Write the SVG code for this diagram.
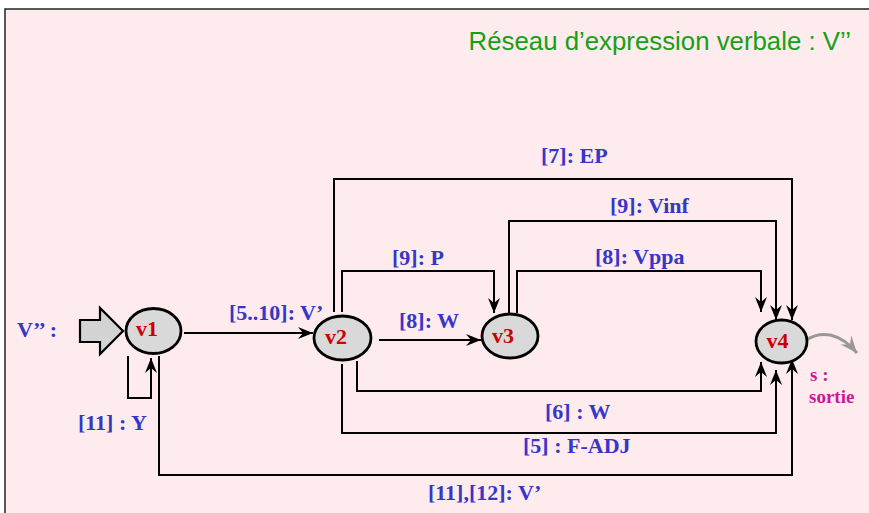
<svg xmlns="http://www.w3.org/2000/svg" width="869" height="513" viewBox="0 0 869 513">
<style>
.lbl{font-family:"Liberation Serif","Times New Roman",serif;font-weight:bold;font-size:22px;fill:#3636c8}
.nlbl{font-family:"Liberation Serif","Times New Roman",serif;font-weight:bold;font-size:22px;fill:#cc0000;text-anchor:middle}
.node{fill:#d9d9d9;stroke:#000;stroke-width:2.8}
.edge{fill:none;stroke:#000;stroke-width:2}
.sortie{font-family:"Liberation Serif","Times New Roman",serif;font-weight:bold;font-size:19px;fill:#cc1699}
</style>
<defs>
<marker id="ah" markerUnits="userSpaceOnUse" markerWidth="17" markerHeight="14" viewBox="-15 -7 17 14" refX="0" refY="0" orient="auto">
<path d="M0,0 L-15,-6 L-10,0 L-15,6 z" fill="#000"/>
</marker>
<marker id="ahg" markerUnits="userSpaceOnUse" markerWidth="20" markerHeight="16" viewBox="-17 -8 19 16" refX="0" refY="0" orient="auto">
<path d="M0,0 L-17,-7 L-11,0 L-17,7 z" fill="#999"/>
</marker>
</defs>
<rect x="0" y="0" width="869" height="513" fill="#ffffff"/>
<rect x="5" y="9" width="880" height="520" fill="#fdebed" stroke="#222" stroke-width="1.5"/>
<text x="851" y="50" text-anchor="end" font-family="Liberation Sans, Arial, sans-serif" font-size="25.8" fill="#16a016">Réseau d’expression verbale : V’’</text>

<g id="connectors">
<path class="edge" d="M184,333 H313" marker-end="url(#ah)"/>
<path class="edge" d="M128,356 V398 H151 V358" marker-end="url(#ah)"/>
<path class="edge" d="M159,356 V475 H792 V359" marker-end="url(#ah)"/>
<path class="edge" d="M379,340 H481" marker-end="url(#ah)"/>
<path class="edge" d="M334,312 V179 H792 V320" marker-end="url(#ah)"/>
<path class="edge" d="M342,312 V271 H494 V313" marker-end="url(#ah)"/>
<path class="edge" d="M509,313 V221 H776 V320" marker-end="url(#ah)"/>
<path class="edge" d="M517,313 V271 H761 V312" marker-end="url(#ah)"/>
<path class="edge" d="M357,361 V391 H761 V362" marker-end="url(#ah)"/>
<path class="edge" d="M342,364 V433 H776 V370" marker-end="url(#ah)"/>
<path d="M806,340 C822,330 840,333 857,353" fill="none" stroke="#999" stroke-width="3" marker-end="url(#ahg)"/>
</g>

<g id="input">
<path d="M80,320 H100 V308 L123,331 L100,354 V342 H80 z" fill="#d3d3d3" stroke="#000" stroke-width="2.2" stroke-linejoin="miter"/>
<text class="lbl" x="17" y="337">V’’ :</text>
</g>

<g id="v1">
<ellipse class="node" cx="153.5" cy="331" rx="27.5" ry="22.5"/>
<text class="nlbl" x="147" y="336">v1</text>
</g>
<g id="v2">
<ellipse class="node" cx="342.5" cy="338" rx="28.5" ry="22"/>
<text class="nlbl" x="336" y="344">v2</text>
</g>
<g id="v3">
<ellipse class="node" cx="510" cy="336" rx="28" ry="22"/>
<text class="nlbl" x="503" y="343">v3</text>
</g>
<g id="v4">
<ellipse class="node" cx="781.5" cy="341.5" rx="25.5" ry="21.5"/>
<text class="nlbl" x="777.5" y="348">v4</text>
</g>

<g id="labels">
<text class="lbl" x="229" y="320">[5..10]: V’</text>
<text class="lbl" x="78" y="430">[11] : Y</text>
<text class="lbl" x="541" y="163">[7]: EP</text>
<text class="lbl" x="610" y="213">[9]: Vinf</text>
<text class="lbl" x="595" y="264">[8]: Vppa</text>
<text class="lbl" x="392" y="265">[9]: P</text>
<text class="lbl" x="399" y="328">[8]: W</text>
<text class="lbl" x="545" y="419">[6] : W</text>
<text class="lbl" x="523" y="453">[5] : F-ADJ</text>
<text class="lbl" x="428" y="500">[11],[12]: V’</text>
<text class="sortie" x="810" y="381">s :</text>
<text class="sortie" x="809" y="403">sortie</text>
</g>
</svg>
